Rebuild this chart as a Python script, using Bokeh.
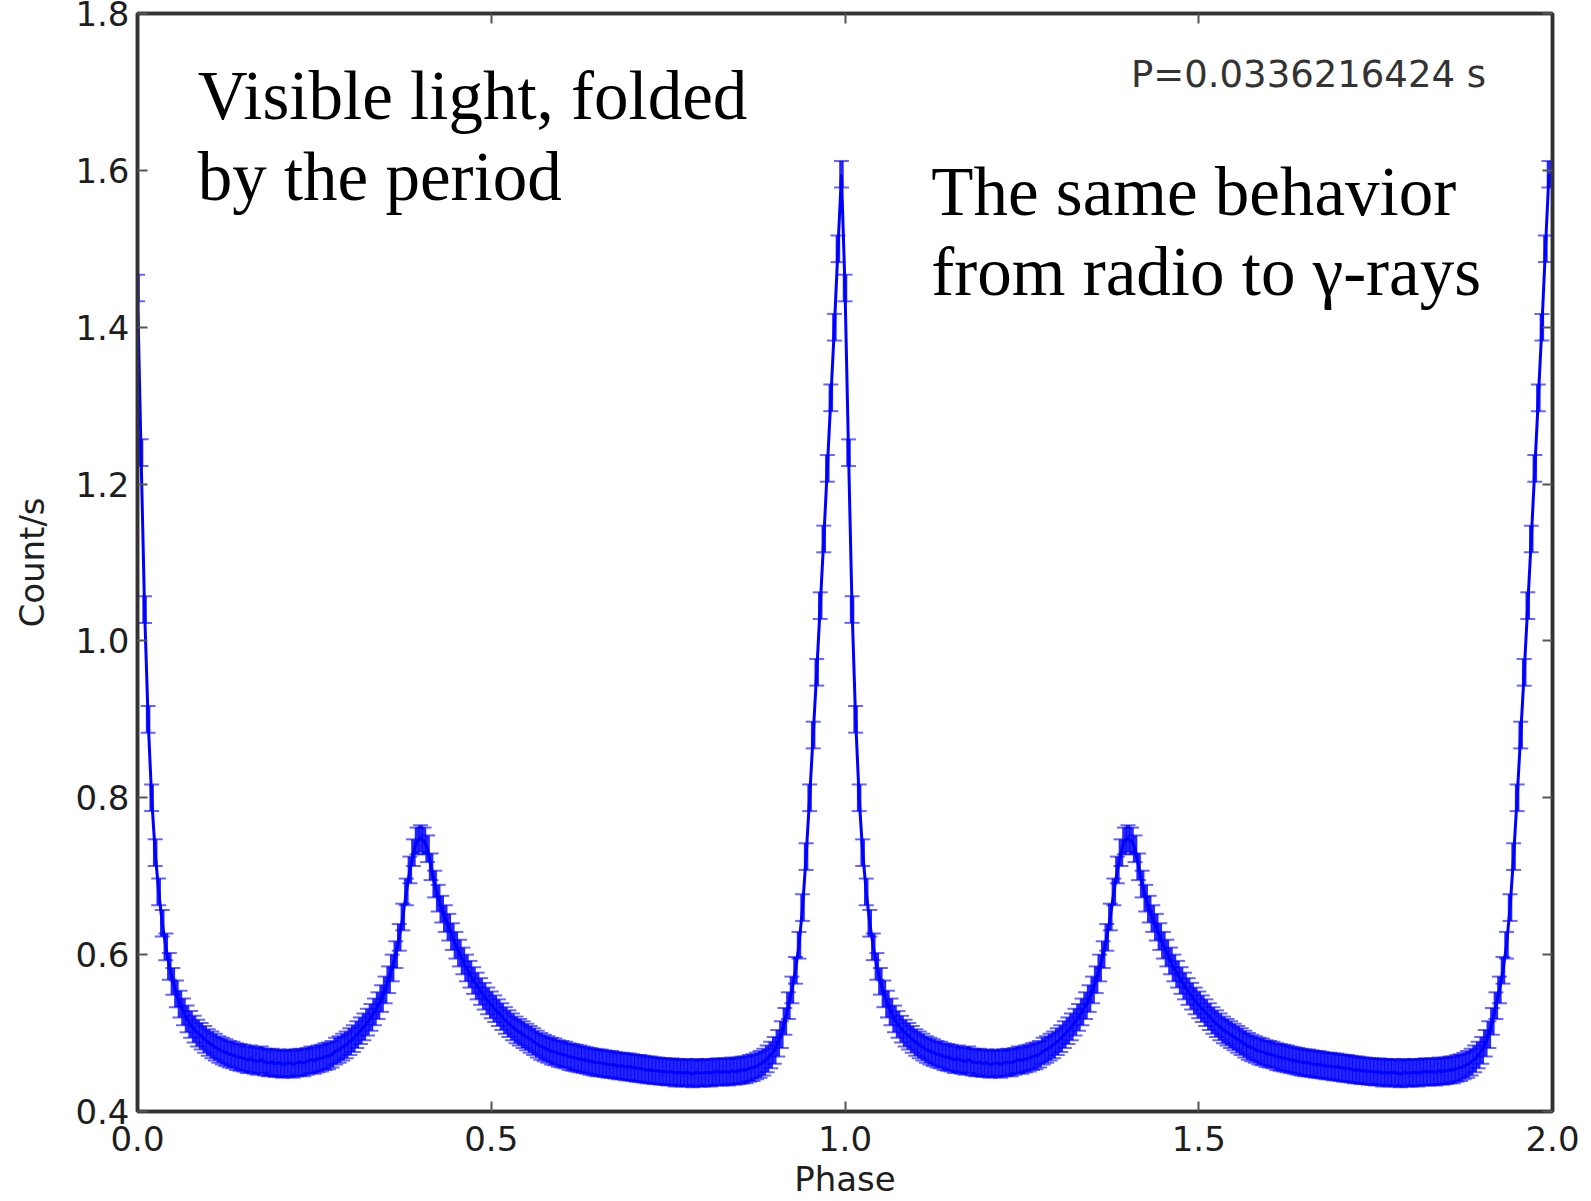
from bokeh.plotting import figure
from bokeh.models import (Range1d, FixedTicker, LinearAxis, Whisker, ColumnDataSource,
                          TeeHead, Label, PrintfTickFormatter, CustomJSTickFormatter)
from bokeh.embed import file_html
from bokeh.resources import INLINE

# ---- data: one pulse cycle (phase bins of 0.005) ----
phase_cycle = [
    0.000, 0.005, 0.010, 0.015, 0.020, 0.025, 0.030, 0.035, 0.040, 0.045,
    0.050, 0.055, 0.060, 0.065, 0.070, 0.075, 0.080, 0.085, 0.090, 0.095,
    0.100, 0.105, 0.110, 0.115, 0.120, 0.125, 0.130, 0.135, 0.140, 0.145,
    0.150, 0.155, 0.160, 0.165, 0.170, 0.175, 0.180, 0.185, 0.190, 0.195,
    0.200, 0.205, 0.210, 0.215, 0.220, 0.225, 0.230, 0.235, 0.240, 0.245,
    0.250, 0.255, 0.260, 0.265, 0.270, 0.275, 0.280, 0.285, 0.290, 0.295,
    0.300, 0.305, 0.310, 0.315, 0.320, 0.325, 0.330, 0.335, 0.340, 0.345,
    0.350, 0.355, 0.360, 0.365, 0.370, 0.375, 0.380, 0.385, 0.390, 0.395,
    0.400, 0.405, 0.410, 0.415, 0.420, 0.425, 0.430, 0.435, 0.440, 0.445,
    0.450, 0.455, 0.460, 0.465, 0.470, 0.475, 0.480, 0.485, 0.490, 0.495,
    0.500, 0.505, 0.510, 0.515, 0.520, 0.525, 0.530, 0.535, 0.540, 0.545,
    0.550, 0.555, 0.560, 0.565, 0.570, 0.575, 0.580, 0.585, 0.590, 0.595,
    0.600, 0.605, 0.610, 0.615, 0.620, 0.625, 0.630, 0.635, 0.640, 0.645,
    0.650, 0.655, 0.660, 0.665, 0.670, 0.675, 0.680, 0.685, 0.690, 0.695,
    0.700, 0.705, 0.710, 0.715, 0.720, 0.725, 0.730, 0.735, 0.740, 0.745,
    0.750, 0.755, 0.760, 0.765, 0.770, 0.775, 0.780, 0.785, 0.790, 0.795,
    0.800, 0.805, 0.810, 0.815, 0.820, 0.825, 0.830, 0.835, 0.840, 0.845,
    0.850, 0.855, 0.860, 0.865, 0.870, 0.875, 0.880, 0.885, 0.890, 0.895,
    0.900, 0.905, 0.910, 0.915, 0.920, 0.925, 0.930, 0.935, 0.940, 0.945,
    0.950, 0.955, 0.960, 0.965, 0.970, 0.975, 0.980, 0.985, 0.990, 0.995,
]
count_cycle = [
    1.450, 1.240, 1.040, 0.900, 0.800, 0.730, 0.680, 0.640, 0.610, 0.585,
    0.566, 0.550, 0.537, 0.527, 0.518, 0.511, 0.505, 0.500, 0.496, 0.492,
    0.488, 0.485, 0.482, 0.479, 0.477, 0.475, 0.473, 0.472, 0.470, 0.469,
    0.468, 0.466, 0.467, 0.465, 0.464, 0.466, 0.463, 0.462, 0.463, 0.461,
    0.462, 0.460, 0.461, 0.462, 0.460, 0.462, 0.463, 0.462, 0.464, 0.466,
    0.465, 0.467, 0.468, 0.470, 0.471, 0.473, 0.477, 0.479, 0.482, 0.485,
    0.489, 0.493, 0.498, 0.503, 0.508, 0.514, 0.520, 0.527, 0.535, 0.544,
    0.555, 0.568, 0.583, 0.600, 0.622, 0.648, 0.680, 0.708, 0.730, 0.745,
    0.748, 0.745, 0.735, 0.712, 0.690, 0.672, 0.658, 0.646, 0.635, 0.623,
    0.612, 0.602, 0.592, 0.583, 0.575, 0.567, 0.560, 0.553, 0.547, 0.541,
    0.536, 0.531, 0.526, 0.521, 0.516, 0.512, 0.508, 0.504, 0.501, 0.498,
    0.495, 0.492, 0.489, 0.486, 0.483, 0.481, 0.479, 0.477, 0.476, 0.474,
    0.473, 0.472, 0.470, 0.469, 0.468, 0.467, 0.466, 0.465, 0.464, 0.463,
    0.462, 0.462, 0.461, 0.460, 0.460, 0.459, 0.458, 0.458, 0.457, 0.457,
    0.456, 0.455, 0.455, 0.454, 0.453, 0.453, 0.452, 0.452, 0.451, 0.451,
    0.450, 0.451, 0.449, 0.450, 0.449, 0.450, 0.449, 0.448, 0.450, 0.449,
    0.449, 0.450, 0.449, 0.450, 0.451, 0.450, 0.451, 0.450, 0.452, 0.451,
    0.452, 0.453, 0.453, 0.455, 0.456, 0.458, 0.460, 0.463, 0.467, 0.472,
    0.478, 0.487, 0.498, 0.515, 0.535, 0.555, 0.580, 0.612, 0.660, 0.725,
    0.800, 0.880, 0.960, 1.045, 1.130, 1.220, 1.310, 1.400, 1.500, 1.595,
]
count_err = 0.017          # half-length of the error bars (Count/s)
n_cycles = 2               # the folded profile is shown twice

x_ticks = [0.0, 0.5, 1.0, 1.5, 2.0]
y_ticks = [0.4, 0.6, 0.8, 1.0, 1.2, 1.4, 1.6, 1.8]
x_label = "Phase"
y_label = "Count/s"
period_text = "P=0.0336216424 s"
note_left = ["Visible light, folded", "by the period"]
note_right = ["The same behavior", "from radio to \u03b3-rays"]

# ---- build the two-cycle series ----
phase = []
count = []
for c in range(n_cycles):
    phase += [p + c for p in phase_cycle]
    count += count_cycle
src = ColumnDataSource(dict(
    x=phase, y=count,
    upper=[v + count_err for v in count],
    lower=[v - count_err for v in count],
))

BLUE = "#0000ff"
AX = "#333333"
TXT = "#1e1e1e"

p = figure(width=1591, height=1201, output_backend="svg", toolbar_location=None,
           x_range=Range1d(0, 2), y_range=Range1d(0.4, 1.8),
           min_border_left=137, min_border_right=39, min_border_top=13,
           min_border_bottom=88)
p.background_fill_color = "white"
p.border_fill_color = "white"
p.grid.visible = False
p.outline_line_color = AX
p.outline_line_width = 3.5

for ax in (p.xaxis[0], p.yaxis[0]):
    ax.major_tick_in = 10
    ax.major_tick_out = 0
    ax.minor_tick_line_color = None
    ax.major_tick_line_color = "#555555"
    ax.major_tick_line_width = 2
    ax.axis_line_color = AX
    ax.axis_line_width = 3.5
    ax.major_label_text_font = "DejaVu Sans"
    ax.major_label_text_font_size = "34px"
    ax.major_label_text_color = TXT
    ax.axis_label_text_font = "DejaVu Sans"
    ax.axis_label_text_font_size = "34px"
    ax.axis_label_text_font_style = "normal"
    ax.axis_label_text_color = TXT
    ax.formatter = PrintfTickFormatter(format="%.1f")

p.xaxis[0].ticker = FixedTicker(ticks=x_ticks)
p.yaxis[0].ticker = FixedTicker(ticks=y_ticks)
p.xaxis[0].axis_label = x_label
p.yaxis[0].axis_label = y_label
p.xaxis[0].major_label_standoff = 14
p.xaxis[0].axis_label_standoff = 5
p.yaxis[0].major_label_standoff = 8
p.yaxis[0].axis_label_standoff = 20

# mirrored ticks on top and right (no labels)
blank = CustomJSTickFormatter(code="return ''")
common = dict(major_tick_in=10, major_tick_out=0, minor_tick_line_color=None,
              major_tick_line_color="#555555", major_tick_line_width=2,
              axis_line_color=AX, axis_line_width=3.5, major_label_standoff=0,
              formatter=blank)
top = LinearAxis(ticker=FixedTicker(ticks=x_ticks), **common)
right = LinearAxis(ticker=FixedTicker(ticks=y_ticks), **common)
p.add_layout(top, "above")
p.add_layout(right, "right")

# error bars + connecting line
whisk = Whisker(source=src, base="x", upper="upper", lower="lower", dimension="height",
                line_color=BLUE, line_width=4.5, line_alpha=0.85,
                upper_head=TeeHead(size=15, line_color=BLUE, line_width=2, line_alpha=0.6),
                lower_head=TeeHead(size=15, line_color=BLUE, line_width=2, line_alpha=0.6))
p.add_layout(whisk)
p.line("x", "y", source=src, line_color=BLUE, line_width=3)

# annotations
serif = "Liberation Serif"
for i, t in enumerate(note_left):
    p.add_layout(Label(x=0.085, y=[1.695, 1.592][i], text=t, text_font=serif,
                       text_font_size="69px", text_color="black",
                       text_baseline="alphabetic"))
for i, t in enumerate(note_right):
    p.add_layout(Label(x=1.122, y=[1.573, 1.471][i], text=t, text_font=serif,
                       text_font_size="69px", text_color="black",
                       text_baseline="alphabetic"))
p.add_layout(Label(x=1.906, y=1.722, text=period_text, text_font="DejaVu Sans",
                   text_font_size="37px", text_color="#333333", text_align="right",
                   text_baseline="alphabetic"))

open("out.html", "w").write(file_html(p, INLINE))
